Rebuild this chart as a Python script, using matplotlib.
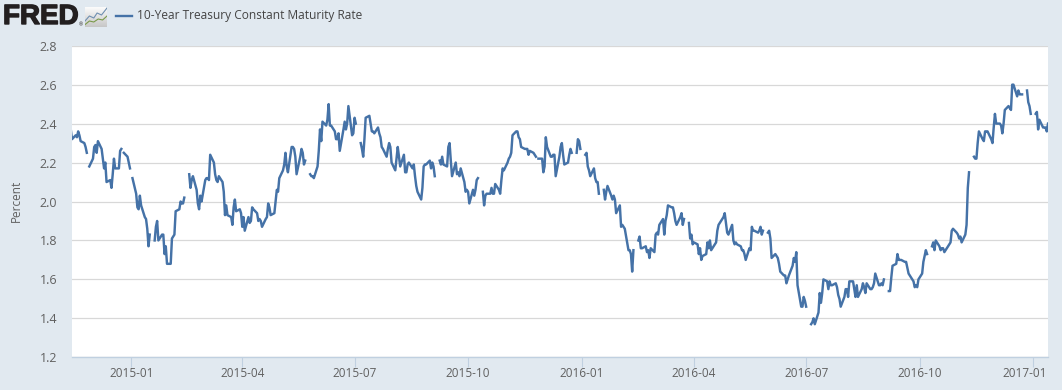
#!/usr/bin/env python3
"""FRED chart: 10-Year Treasury Constant Maturity Rate, Nov 2014 - Jan 2017"""

import matplotlib
matplotlib.use('Agg')
import matplotlib.pyplot as plt
import matplotlib.dates as mdates
import matplotlib.patheffects as path_effects
import numpy as np
import pandas as pd

plt.rcParams['font.family'] = ['Open Sans', 'DejaVu Sans']

series_name = '10-Year Treasury Constant Maturity Rate'
y_ticks = [1.2, 1.4, 1.6, 1.8, 2.0, 2.2, 2.4, 2.6, 2.8]
x_ticks = ['2015-01', '2015-04', '2015-07', '2015-10', '2016-01', '2016-04',
           '2016-07', '2016-10', '2017-01']

# first business day of each run between market holidays
segment_starts = [
    '2014-11-13', '2014-11-28', '2014-12-26', '2015-01-02', '2015-01-20',
    '2015-02-17', '2015-05-26', '2015-07-06', '2015-09-08', '2015-10-13',
    '2015-11-27', '2015-12-28', '2016-01-04', '2016-01-19', '2016-02-16',
    '2016-03-28', '2016-05-31', '2016-07-05', '2016-09-06', '2016-10-11',
    '2016-11-14', '2016-12-27', '2017-01-03',
]

# daily rates (percent) for each run, same order as segment_starts
segment_rates = [
    [2.37, 2.32, 2.34, 2.33, 2.36, 2.34, 2.31, 2.30, 2.28, 2.25],
    [2.18, 2.22, 2.28, 2.29, 2.25, 2.31, 2.27, 2.22, 2.17, 2.20, 2.10, 2.11,
     2.07, 2.14, 2.22, 2.17, 2.17, 2.26, 2.27],
    [2.25, 2.23, 2.20, 2.17],
    [2.12, 2.04, 1.97, 1.96, 2.03, 1.98, 1.92, 1.91, 1.86, 1.77, 1.83],
    [1.80, 1.87, 1.90, 1.80, 1.83, 1.83, 1.73, 1.77, 1.68, 1.68, 1.81, 1.82,
     1.83, 1.95, 1.96, 2.00, 1.99, 1.99, 2.02],
    [2.14, 2.07, 2.11, 2.13, 2.06, 1.99, 1.96, 2.03, 2.00, 2.11, 2.12, 2.12,
     2.11, 2.24, 2.20, 2.14, 2.11, 2.10, 2.13, 2.10, 2.05, 1.93, 1.98, 1.93,
     1.92, 1.88, 1.97, 2.01, 1.95, 1.96, 1.94, 1.87, 1.92, 1.85, 1.92, 1.89,
     1.90, 1.97, 1.96, 1.94, 1.90, 1.91, 1.90, 1.87, 1.91, 1.92, 1.99, 1.97,
     1.93, 1.94, 2.00, 2.06, 2.05, 2.12, 2.16, 2.19, 2.25, 2.18, 2.15, 2.28,
     2.28, 2.27, 2.23, 2.14, 2.23, 2.27, 2.25, 2.19, 2.21],
    [2.14, 2.13, 2.13, 2.12, 2.18, 2.26, 2.37, 2.31, 2.41, 2.39, 2.42, 2.50,
     2.39, 2.39, 2.36, 2.32, 2.32, 2.35, 2.26, 2.37, 2.41, 2.37, 2.40, 2.49,
     2.34, 2.35, 2.43, 2.40],
    [2.30, 2.27, 2.23, 2.32, 2.43, 2.44, 2.40, 2.36, 2.36, 2.35, 2.38, 2.35,
     2.33, 2.28, 2.27, 2.23, 2.27, 2.30, 2.28, 2.20, 2.16, 2.22, 2.28, 2.23,
     2.18, 2.24, 2.15, 2.15, 2.19, 2.20, 2.17, 2.19, 2.13, 2.08, 2.05, 2.01,
     2.07, 2.18, 2.19, 2.19, 2.21, 2.17, 2.20, 2.18, 2.13],
    [2.21, 2.19, 2.23, 2.19, 2.18, 2.28, 2.30, 2.21, 2.13, 2.20, 2.14, 2.15,
     2.13, 2.17, 2.10, 2.05, 2.06, 2.05, 1.99, 2.06, 2.03, 2.06, 2.11, 2.12],
    [2.05, 1.98, 2.03, 2.04, 2.04, 2.07, 2.04, 2.04, 2.09, 2.06, 2.04, 2.11,
     2.17, 2.16, 2.20, 2.22, 2.23, 2.25, 2.34, 2.36, 2.36, 2.33, 2.32, 2.28,
     2.27, 2.27, 2.27, 2.24, 2.26, 2.25, 2.24, 2.23],
    [2.22, 2.22, 2.15, 2.18, 2.33, 2.28, 2.23, 2.23, 2.24, 2.24, 2.13, 2.23,
     2.28, 2.30, 2.24, 2.19, 2.20, 2.24, 2.27, 2.25],
    [2.25, 2.32, 2.31, 2.27],
    [2.24, 2.25, 2.18, 2.16, 2.13, 2.17, 2.12, 2.10, 2.10, 2.04],
    [2.06, 2.01, 2.05, 2.08, 2.03, 2.01, 2.03, 2.01, 1.94, 1.98, 1.87, 1.88,
     1.87, 1.86, 1.75, 1.75, 1.73, 1.64, 1.75],
    [1.80, 1.82, 1.76, 1.76, 1.77, 1.74, 1.75, 1.71, 1.76, 1.74, 1.83, 1.84,
     1.83, 1.88, 1.91, 1.83, 1.90, 1.93, 1.98, 1.97, 1.97, 1.94, 1.90, 1.88,
     1.92, 1.94, 1.88, 1.91],
    [1.89, 1.81, 1.83, 1.78, 1.79, 1.78, 1.73, 1.76, 1.70, 1.72, 1.73, 1.79,
     1.76, 1.80, 1.75, 1.78, 1.79, 1.85, 1.88, 1.89, 1.92, 1.94, 1.89, 1.84,
     1.83, 1.88, 1.80, 1.78, 1.79, 1.78, 1.77, 1.75, 1.75, 1.73, 1.70, 1.76,
     1.75, 1.87, 1.85, 1.85, 1.84, 1.85, 1.87, 1.83, 1.85],
    [1.84, 1.85, 1.81, 1.71, 1.73, 1.72, 1.71, 1.68, 1.64, 1.62, 1.62, 1.58,
     1.60, 1.62, 1.67, 1.71, 1.69, 1.74, 1.57, 1.46, 1.46, 1.51, 1.49, 1.46],
    [1.37, 1.38, 1.40, 1.37, 1.43, 1.53, 1.48, 1.53, 1.60, 1.59, 1.55, 1.59,
     1.57, 1.57, 1.58, 1.56, 1.52, 1.50, 1.46, 1.51, 1.55, 1.55, 1.51, 1.59,
     1.59, 1.55, 1.51, 1.57, 1.51, 1.55, 1.58, 1.56, 1.53, 1.58, 1.55, 1.55,
     1.56, 1.58, 1.63, 1.57, 1.57, 1.58, 1.57, 1.60],
    [1.54, 1.54, 1.61, 1.67, 1.68, 1.73, 1.70, 1.70, 1.70, 1.69, 1.69, 1.66,
     1.63, 1.62, 1.59, 1.56, 1.57, 1.56, 1.60, 1.63, 1.69, 1.72, 1.75, 1.73],
    [1.77, 1.79, 1.75, 1.80, 1.77, 1.75, 1.76, 1.76, 1.74, 1.77, 1.78, 1.79,
     1.85, 1.86, 1.84, 1.83, 1.81, 1.82, 1.79, 1.83, 1.88, 2.07, 2.15],
    [2.23, 2.22, 2.22, 2.30, 2.36, 2.32, 2.31, 2.36, 2.36, 2.36, 2.32, 2.30,
     2.38, 2.45, 2.40, 2.40, 2.39, 2.35, 2.40, 2.47, 2.49, 2.48, 2.47, 2.60,
     2.60, 2.54, 2.57, 2.55, 2.55, 2.55],
    [2.57, 2.51, 2.49, 2.45],
    [2.45, 2.46, 2.37, 2.42, 2.38, 2.38, 2.38, 2.36, 2.40],
]

# colors from the FRED page
bg_color = '#e1e9f0'
line_color = '#4572a7'
grid_color = '#d8d8d8'
axis_color = '#c0d0e0'
text_color = '#606060'

W, H = 1062, 390
fig = plt.figure(figsize=(W / 100, H / 100), dpi=100, facecolor=bg_color)
ax = fig.add_axes([72 / W, 1 - 357.3 / H, 976 / W, 311.6 / H])

# one line per run so the holidays stay as gaps
for start, values in zip(segment_starts, segment_rates):
    dates = pd.bdate_range(start, periods=len(values))
    ax.plot(dates, values, color=line_color, linewidth=1.75, zorder=5)

ax.set_xlim(pd.Timestamp('2014-11-14'), pd.Timestamp('2017-01-13'))
ax.set_ylim(1.2, 2.8)
ax.set_yticks(y_ticks)
ax.set_yticklabels([f'{v:.1f}' for v in y_ticks])
ax.set_xticks([mdates.date2num(pd.Timestamp(t + '-01')) for t in x_ticks])
ax.set_xticklabels(x_ticks[:-1] + [''])

ax.grid(axis='y', color=grid_color, linewidth=0.9)
ax.set_axisbelow(True)
ax.tick_params(axis='y', length=0, pad=10.5, labelsize=9, labelcolor=text_color)
ax.tick_params(axis='x', length=7, width=0.8, color=axis_color, pad=0,
               labelsize=8.5, labelcolor=text_color)
for side in ['top', 'right', 'left']:
    ax.spines[side].set_visible(False)
ax.spines['bottom'].set_color(axis_color)
ax.spines['bottom'].set_linewidth(1)

# last label sits left of its tick so it stays inside the plot
fig.text(1047 / W, 1 - 373.5 / H, x_ticks[-1], ha='right', va='center',
         fontsize=8.5, color=text_color)

fig.text(16 / W, 1 - 201 / H, 'Percent', rotation=90, ha='center', va='center',
         fontsize=8.5, color=text_color)

# legend row
fig.add_artist(plt.Line2D([116 / W, 132 / W], [1 - 16 / H, 1 - 16 / H],
                          color=line_color, linewidth=1.7))
fig.text(137 / W, 1 - 16 / H, series_name, ha='left', va='center',
         fontsize=8.55, color='#444444')

# FRED logo
logo = fig.text(3 / W, 1 - 17 / H, 'FRED', ha='left', va='center', fontsize=20,
                fontweight='bold', family='Liberation Sans', color='#231f20')
logo.set_path_effects([path_effects.withStroke(linewidth=1.0, foreground='#231f20')])
fig.text(79 / W, 1 - 25 / H, '®', ha='left', va='center', fontsize=3.5, color='#231f20')

icon = fig.add_axes([85 / W, 1 - 27 / H, 22 / W, 20 / H])
icon.imshow(np.linspace(0.98, 0.78, 20).reshape(-1, 1), cmap='gray', vmin=0, vmax=1,
            aspect='auto', extent=[0, 1, 0, 1])
icon.plot([0, .2, .4, .55, .75, 1], [.3, .55, .45, .7, .6, .95], color='#6f8fb0', linewidth=0.8)
icon.plot([0, .2, .4, .6, .8, 1], [.12, .3, .25, .4, .35, .55], color='#7a9a4a', linewidth=0.8)
icon.set_xlim(0, 1)
icon.set_ylim(0, 1)
icon.axis('off')

fig.savefig('out.png', dpi=100, facecolor=bg_color)
plt.close(fig)
